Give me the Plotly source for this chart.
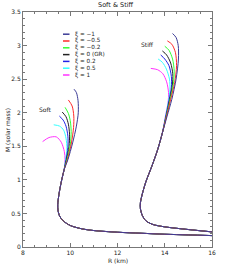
import plotly.graph_objects as go

# ---- data (R in km, M in solar masses) ----
xi_labels = ["ξ = −1", "ξ = −0.5", "ξ = −0.2", "ξ = 0 (GR)", "ξ = 0.2", "ξ = 0.5", "ξ = 1"]
colors = ["#3c3c96", "#ff2a2a", "#33ff33", "#222222", "#2222e6", "#33ffff", "#ff33ff"]

# common low-mass branch, soft EoS
soft_low_R = [16.0, 15.0, 14.0, 13.0, 12.0, 11.0, 10.5, 10.0, 9.7, 9.55, 9.48, 9.47, 9.52, 9.62, 9.74]
soft_low_M = [0.17, 0.18, 0.19, 0.205, 0.22, 0.245, 0.27, 0.32, 0.39, 0.46, 0.55, 0.63, 0.78, 0.97, 1.15]

# upper branches, soft EoS (per xi)
soft_up_R = [
    [9.9, 10.1, 10.26, 10.34, 10.33, 10.26, 10.16],
    [9.88, 10.05, 10.14, 10.15, 10.08, 9.92],
    [9.86, 10.0, 10.04, 10.0, 9.92, 9.78],
    [9.84, 9.95, 9.97, 9.92, 9.82, 9.66],
    [9.82, 9.9, 9.9, 9.82, 9.7, 9.54],
    [9.8, 9.86, 9.82, 9.72, 9.55, 9.3],
    [9.78, 9.75, 9.62, 9.41, 9.1, 8.83],
]
soft_up_M = [
    [1.3, 1.55, 1.8, 2.0, 2.18, 2.3, 2.35],
    [1.3, 1.55, 1.78, 1.95, 2.1, 2.19],
    [1.3, 1.52, 1.72, 1.88, 1.99, 2.08],
    [1.3, 1.5, 1.68, 1.83, 1.94, 2.01],
    [1.3, 1.48, 1.65, 1.8, 1.89, 1.95],
    [1.3, 1.46, 1.62, 1.74, 1.8, 1.82],
    [1.3, 1.42, 1.56, 1.64, 1.63, 1.57],
]

# common low-mass branch, stiff EoS
stiff_low_R = [16.0, 15.0, 14.0, 13.5, 13.2, 13.05, 12.97, 12.97, 13.05, 13.2, 13.45, 13.7, 13.9]
stiff_low_M = [0.225, 0.26, 0.30, 0.335, 0.39, 0.47, 0.57, 0.66, 0.79, 0.97, 1.2, 1.45, 1.7]

# upper branches, stiff EoS (per xi)
stiff_up_R = [
    [14.1, 14.3, 14.48, 14.58, 14.57, 14.48, 14.33],
    [14.08, 14.25, 14.42, 14.5, 14.45, 14.3, 14.11],
    [14.07, 14.23, 14.36, 14.4, 14.33, 14.18, 14.0],
    [14.06, 14.21, 14.32, 14.34, 14.25, 14.08, 13.9],
    [14.05, 14.19, 14.28, 14.28, 14.18, 14.0, 13.83],
    [14.04, 14.16, 14.22, 14.2, 14.07, 13.9, 13.72],
    [14.03, 14.14, 14.16, 14.08, 13.92, 13.7, 13.41],
]
stiff_up_M = [
    [1.95, 2.2, 2.5, 2.8, 3.0, 3.12, 3.18],
    [1.95, 2.2, 2.45, 2.7, 2.9, 3.02, 3.07],
    [1.95, 2.2, 2.42, 2.62, 2.8, 2.93, 2.99],
    [1.95, 2.2, 2.4, 2.58, 2.74, 2.86, 2.92],
    [1.95, 2.2, 2.38, 2.54, 2.7, 2.8, 2.86],
    [1.95, 2.18, 2.35, 2.5, 2.65, 2.75, 2.8],
    [1.95, 2.15, 2.3, 2.46, 2.58, 2.64, 2.66],
]

x_ticks = [8, 10, 12, 14, 16]
y_ticks = [0, 0.5, 1, 1.5, 2, 2.5, 3, 3.5]

FONT = "DejaVu Sans"
fig = go.Figure()

order = list(range(len(xi_labels)))[::-1]
for i in order:
    fig.add_trace(go.Scatter(
        x=soft_low_R + soft_up_R[i], y=soft_low_M + soft_up_M[i],
        mode="lines", line=dict(color=colors[i], width=1, shape="spline", smoothing=0.8),
        showlegend=False, hoverinfo="skip"))
    fig.add_trace(go.Scatter(
        x=stiff_low_R + stiff_up_R[i], y=stiff_low_M + stiff_up_M[i],
        mode="lines", line=dict(color=colors[i], width=1, shape="spline", smoothing=0.8),
        showlegend=False, hoverinfo="skip"))

# manual legend (compact)
L, R_, T, B = 23, 28, 12, 19
W, H = 240, 266
pw, ph = W - L - R_, H - T - B
def px_x(p):
    return (p - L) / pw
def px_y(p):
    return (H - B - p) / ph

for k, (lab, col) in enumerate(zip(xi_labels, colors)):
    yy = px_y(34.2 + k * 6.8)
    fig.add_shape(type="line", xref="paper", yref="paper",
                  x0=px_x(63), x1=px_x(69.5), y0=yy, y1=yy,
                  line=dict(color=col, width=1.5))
    fig.add_annotation(xref="paper", yref="paper", x=px_x(72.5), y=yy,
                       text=lab, showarrow=False, xanchor="left", yanchor="middle",
                       font=dict(family=FONT, size=5.7, color="#222"))

fig.add_annotation(x=8.92, y=2.05, text="Soft", showarrow=False,
                   font=dict(family=FONT, size=6, color="#222"))
fig.add_annotation(x=13.27, y=3.02, text="Stiff", showarrow=False,
                   font=dict(family=FONT, size=6, color="#222"))

# axis titles as annotations
fig.add_annotation(xref="paper", yref="paper", x=px_x(117.5), y=px_y(260.5),
                   text="R (km)", showarrow=False, yanchor="middle",
                   font=dict(family=FONT, size=6, color="#222"))
fig.add_annotation(xref="paper", yref="paper", x=px_x(7), y=px_y(130),
                   text="M (solar mass)", showarrow=False, textangle=-90,
                   xanchor="center", yanchor="middle",
                   font=dict(family=FONT, size=6, color="#222"))
fig.add_annotation(xref="paper", yref="paper", x=px_x(116), y=px_y(5.5),
                   text="Soft & Stiff", showarrow=False, yanchor="middle",
                   font=dict(family=FONT, size=6.5, color="#222"))

axis_common = dict(showgrid=False, zeroline=False, showline=True, linecolor="#777",
                   linewidth=1, mirror="allticks", ticks="inside", tickcolor="#777",
                   ticklen=4, tickwidth=1,
                   tickfont=dict(family=FONT, size=6, color="#222"))
fig.update_xaxes(range=[8, 16], tickvals=x_ticks, ticktext=[str(v) for v in x_ticks],
                 minor=dict(dtick=0.5, ticks="inside", ticklen=2, tickcolor="#777", showgrid=False),
                 **axis_common)
fig.update_yaxes(range=[0, 3.5], tickvals=y_ticks, ticktext=["0", "0.5", "1", "1.5", "2", "2.5", "3", "3.5"],
                 minor=dict(dtick=0.1, ticks="inside", ticklen=2, tickcolor="#777", showgrid=False),
                 **axis_common)

fig.update_layout(width=W, height=H, margin=dict(l=L, r=R_, t=T, b=B, autoexpand=False),
                  paper_bgcolor="white", plot_bgcolor="white", showlegend=False)

fig.write_html("out.html", config={"displayModeBar": False},
               post_script="document.body.style.margin='0';document.body.style.overflow='hidden';")
